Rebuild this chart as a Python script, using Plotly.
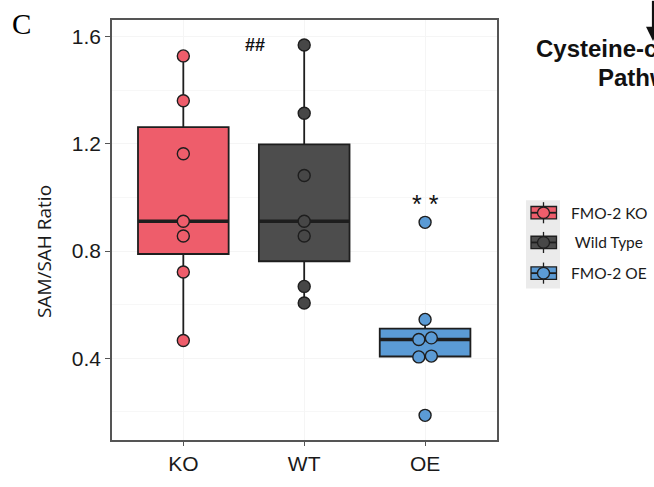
import numpy as np
import plotly.graph_objects as go

# SAM/SAH ratio per animal, by genotype
groups = ["KO", "WT", "OE"]
legend_names = ["FMO-2 KO", " Wild Type", "FMO-2 OE"]
ko_values = [0.466, 0.722, 0.856, 0.911, 1.163, 1.361, 1.528]
wt_values = [0.606, 0.668, 0.856, 0.911, 1.082, 1.314, 1.569]
oe_values = [0.187, 0.405, 0.408, 0.470, 0.476, 0.545, 0.907]
group_values = [ko_values, wt_values, oe_values]
fill_colors = ["#EE5D6B", "#4D4D4D", "#5B9BD5"]
point_colors = ["#EE5D6B", "#474747", "#5B9BD5"]
y_ticks = [0.4, 0.8, 1.2, 1.6]
annot_marks = {"WT": "##", "OE": "* *"}

W, H = 654, 487
L, R, T, B = 112, 157, 20, 29
PW, PH = W - L - R, H - T - B
OUTLINE = "#1e1e1e"
FRAME = "#555555"
BOX_W = 0.75
X_RANGE = [-0.59, 2.595]
Y_RANGE = [0.095, 1.662]


def px(x):
    return (x - L) / PW


def py(y):
    return (T + PH - y) / PH


def dodge(values, bin_width=0.03, step=0.104):
    """Spread points that fall in the same value bin side by side."""
    vals = np.asarray(values)
    order = np.argsort(vals)
    offsets = np.zeros(len(vals))
    i = 0
    while i < len(order):
        j = i
        while j + 1 < len(order) and vals[order[j + 1]] - vals[order[i]] < bin_width:
            j += 1
        k = j - i + 1
        for n, idx in enumerate(order[i:j + 1]):
            offsets[idx] = (n - (k - 1) / 2) * step
        i = j + 1
    return offsets


fig = go.Figure()

for gi, (name, vals) in enumerate(zip(groups, group_values)):
    fig.add_trace(go.Box(
        x=[gi] * len(vals), y=vals, name=name,
        boxpoints="outliers", quartilemethod="inclusive",
        marker=dict(opacity=0, size=1),
        fillcolor=fill_colors[gi],
        line=dict(color=OUTLINE, width=1.8),
        width=BOX_W, whiskerwidth=0,
        showlegend=False, hoverinfo="skip",
    ))
    med = float(np.median(vals))
    fig.add_trace(go.Scatter(
        x=[gi - BOX_W / 2, gi + BOX_W / 2], y=[med, med], mode="lines",
        line=dict(color=OUTLINE, width=3.6), showlegend=False, hoverinfo="skip",
    ))

for gi, vals in enumerate(group_values):
    offs = dodge(vals)
    fig.add_trace(go.Scatter(
        x=gi + offs, y=vals, mode="markers",
        marker=dict(size=12, color=point_colors[gi], line=dict(color=OUTLINE, width=1.4)),
        showlegend=False,
    ))

shapes = []
annotations = []

# significance marks above groups
annotations.append(dict(x=groups.index("WT") - 0.41, y=1.567, xref="x", yref="y",
                        text=f"<b>{annot_marks['WT']}</b>", showarrow=False,
                        font=dict(family="Liberation Sans", size=18, color="#111111")))
annotations.append(dict(x=groups.index("OE"), y=0.975, xref="x", yref="y",
                        text=annot_marks["OE"], showarrow=False,
                        font=dict(family="Liberation Sans", size=25, color="#111111")))

# panel letter
annotations.append(dict(x=px(21), y=py(24), xref="paper", yref="paper", text="C",
                        showarrow=False, xanchor="center", yanchor="middle",
                        font=dict(family="Liberation Serif", size=29, color="#000000")))

# y axis title
annotations.append(dict(x=px(44), y=py(262), xref="paper", yref="paper",
                        text="SAM/SAH Ratio", textangle=-90, showarrow=False,
                        xanchor="center", yanchor="middle",
                        font=dict(family="Open Sans", size=19, color="#1a1a1a")))

# pathway heading with arrow
annotations.append(dict(x=px(534), y=py(50), xref="paper", yref="paper",
                        text="<b>Cysteine-catabolism</b>", showarrow=False,
                        xanchor="left", yanchor="middle",
                        font=dict(family="Liberation Sans", size=24, color="#111111")))
annotations.append(dict(x=px(596), y=py(80), xref="paper", yref="paper",
                        text="<b>Pathway</b>", showarrow=False,
                        xanchor="left", yanchor="middle",
                        font=dict(family="Liberation Sans", size=24, color="#111111")))
shapes.append(dict(type="line", xref="paper", yref="paper",
                   x0=px(653), x1=px(653), y0=py(0), y1=py(30),
                   line=dict(color="#111111", width=2.2)))
shapes.append(dict(type="path", xref="paper", yref="paper",
                   path=f"M {px(646)} {py(27)} L {px(660)} {py(27)} L {px(653)} {py(42)} Z",
                   fillcolor="#111111", line=dict(width=0)))

# legend
shapes.append(dict(type="rect", xref="paper", yref="paper",
                   x0=px(526), x1=px(560), y0=py(208), y1=py(300),
                   fillcolor="#EBEBEB", line=dict(width=0), layer="below"))
key_centers = [221, 252, 284]
for gi, cy in enumerate(key_centers):
    shapes.append(dict(type="line", xref="paper", yref="paper",
                       x0=px(543.5), x1=px(543.5), y0=py(cy - 11), y1=py(cy + 11),
                       line=dict(color=OUTLINE, width=1.3)))
    shapes.append(dict(type="rect", xref="paper", yref="paper",
                       x0=px(531), x1=px(556.5), y0=py(cy - 6.5), y1=py(cy + 6.5),
                       fillcolor=fill_colors[gi], line=dict(color=OUTLINE, width=1.3)))
    shapes.append(dict(type="line", xref="paper", yref="paper",
                       x0=px(531), x1=px(556.5), y0=py(cy), y1=py(cy),
                       line=dict(color=OUTLINE, width=1.8)))
    shapes.append(dict(type="circle", xref="paper", yref="paper",
                       x0=px(537.5), x1=px(549.5), y0=py(cy - 6), y1=py(cy + 6),
                       fillcolor=point_colors[gi], line=dict(color=OUTLINE, width=1.3)))
    annotations.append(dict(x=px(569), y=py(cy), xref="paper", yref="paper",
                            text=legend_names[gi], showarrow=False,
                            xanchor="left", yanchor="middle",
                            font=dict(family="Lato", size=15.5, color="#1a1a1a")))

fig.update_layout(
    width=W, height=H,
    margin=dict(l=L, r=R, t=T, b=B),
    paper_bgcolor="white", plot_bgcolor="white",
    shapes=shapes, annotations=annotations,
    showlegend=False,
    xaxis=dict(
        range=X_RANGE, tickvals=list(range(len(groups))), ticktext=groups,
        showline=True, mirror=True, linecolor=FRAME, linewidth=1.5,
        ticks="outside", ticklen=4, tickwidth=1.3, tickcolor=FRAME,
        showgrid=True, gridcolor="#F5F5F5", zeroline=False,
        tickfont=dict(family="Liberation Sans", size=21, color="#1a1a1a"),
    ),
    yaxis=dict(
        range=Y_RANGE, tickvals=y_ticks, ticktext=[f"{v:.1f}" for v in y_ticks],
        showline=True, mirror=True, linecolor=FRAME, linewidth=1.5,
        ticks="outside", ticklen=5, tickwidth=1.3, tickcolor=FRAME,
        showgrid=True, gridcolor="#F5F5F5", zeroline=False,
        minor=dict(dtick=0.2, showgrid=True, gridcolor="#F7F7F7"),
        tickfont=dict(family="Liberation Sans", size=21, color="#1a1a1a"),
    ),
)

fig.write_html("out.html")
